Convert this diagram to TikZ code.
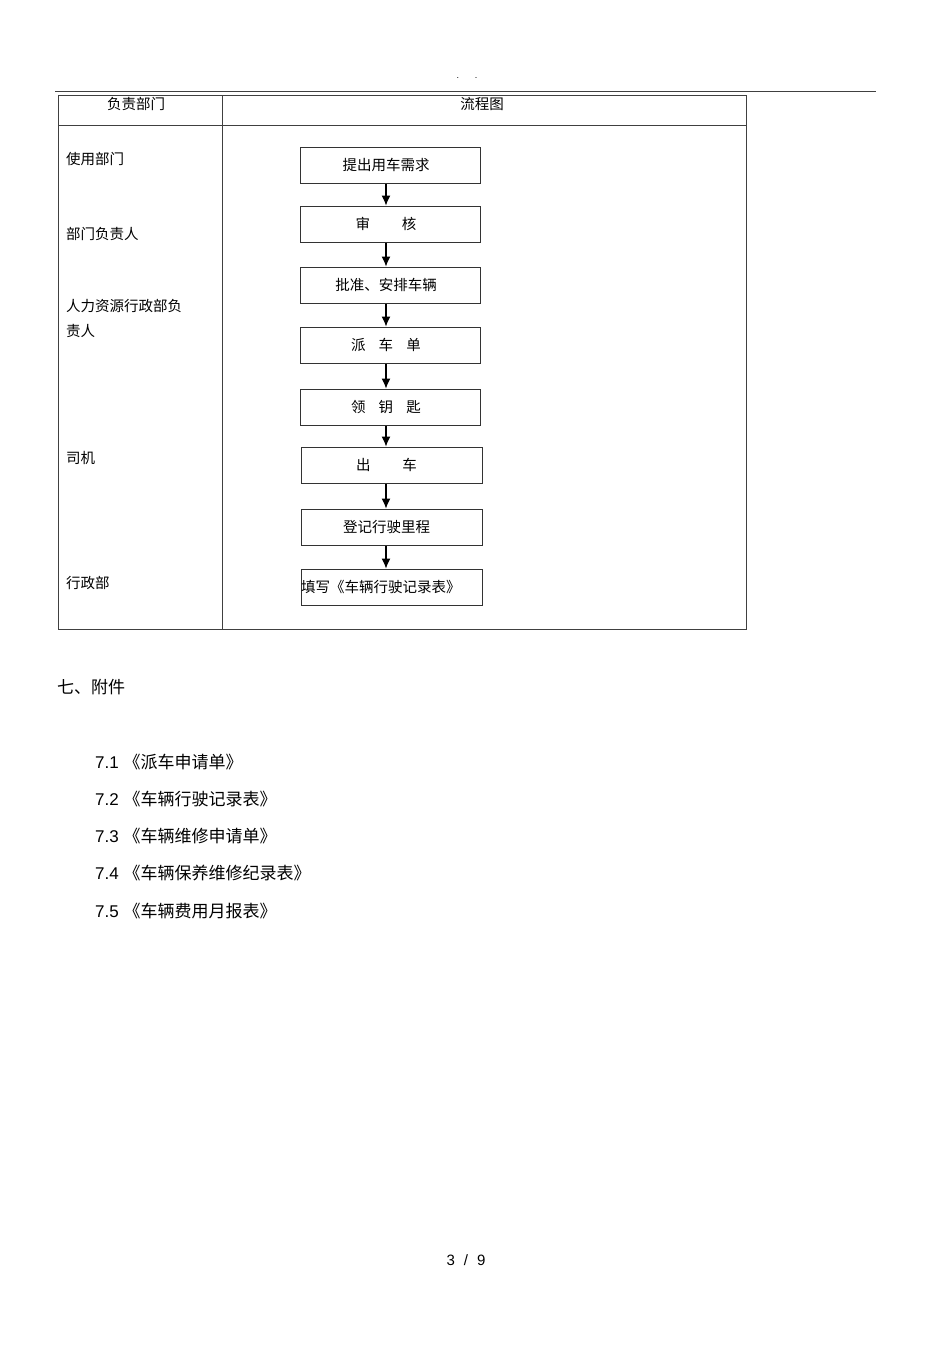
\documentclass[tikz,border=0pt]{standalone}
\usepackage{fontspec}
\setmainfont{Liberation Sans}
\newfontfamily\cjk{Noto Sans CJK SC}
\usepackage{tikz}
\usetikzlibrary{positioning,arrows.meta}
\tikzset{
  flowbox/.style={rectangle, draw=black!80, line width=1pt, minimum width=180pt,
                  minimum height=36pt, inner sep=0pt, font=\fontsize{14.5}{16}\selectfont\cjk},
  flowarr/.style={-{Latex[length=10pt,width=9pt]}, line width=1.1pt},
  tabline/.style={draw=black!75, line width=0.9pt},
  tablab/.style={anchor=west, inner sep=0pt, font=\fontsize{14.5}{25}\selectfont\cjk, align=left},
  listlab/.style={anchor=west, inner sep=0pt, font=\fontsize{17}{20}\selectfont}
}

\begin{document}
\begin{tikzpicture}[x=1pt,y=-1pt]
  \useasboundingbox[fill=white] (0,0) rectangle (950,1345);
  % header rule
  \node[font=\small] (dots) at (467,78) {.\hspace{16pt}.};
  \draw[tabline] (55,91) -- (876,91);
  % table frame
  \draw[tabline] (58,95) rectangle (746,629);
  \draw[tabline] (58,125) -- (746,125);
  \draw[tabline] (222,95) -- (222,629);
  \node[font=\fontsize{14.5}{16}\selectfont\cjk] (hdept) at (136,104) {负责部门};
  \node[font=\fontsize{14.5}{16}\selectfont\cjk] (hflow) at (482,104) {流程图};
  % departments
  \node[tablab] (d1) at (66,159) {使用部门};
  \node[tablab] (d2) at (66,234) {部门负责人};
  \node[tablab, anchor=north west] (d3) at (66,299) {人力资源行政部负\\责人};
  \node[tablab] (d4) at (66,458) {司机};
  \node[tablab] (d5) at (66,583) {行政部};
  % flow
  \node[flowbox] (s1) at (390,165) {提出用车需求\hspace*{8pt}};
  \node[flowbox] (s2) at (390,224) {审\hspace{2.2em}核\hspace*{8pt}};
  \node[flowbox] (s3) at (390,285) {批准、安排车辆\hspace*{8pt}};
  \node[flowbox] (s4) at (390,345) {派\hspace{0.9em}车\hspace{0.9em}单\hspace*{8pt}};
  \node[flowbox] (s5) at (390,407) {领\hspace{0.9em}钥\hspace{0.9em}匙\hspace*{8pt}};
  \node[flowbox, minimum width=181pt] (s6) at (391.5,465) {出\hspace{2.2em}车\hspace*{10pt}};
  \node[flowbox, minimum width=181pt] (s7) at (391.5,527) {登记行驶里程\hspace*{10pt}};
  \node[flowbox, minimum width=181pt, text width=181pt, align=left] (s8) at (391.5,587) {填写《车辆行驶记录表》};
  \foreach \a/\b in {s1/s2,s2/s3,s3/s4,s4/s5,s5/s6,s6/s7,s7/s8}
    \draw[flowarr] (\a.south -| 386,0) -- (\b.north -| 386,0);
  % attachments
  \node[listlab, font=\fontsize{17}{20}\selectfont\cjk] (att) at (57,687) {七、附件};
  \node[listlab] (a1) at (95,762) {7.1 {\cjk 《派车申请单》}};
  \node[listlab] (a2) at (95,799) {7.2 {\cjk 《车辆行驶记录表》}};
  \node[listlab] (a3) at (95,836) {7.3 {\cjk 《车辆维修申请单》}};
  \node[listlab] (a4) at (95,873) {7.4 {\cjk 《车辆保养维修纪录表》}};
  \node[listlab] (a5) at (95,911) {7.5 {\cjk 《车辆费用月报表》}};
  % page number
  \node[font=\fontsize{15}{16}\selectfont] (pg) at (466,1260) {3\hspace{9pt}/\hspace{9pt}9};
\end{tikzpicture}
\end{document}
